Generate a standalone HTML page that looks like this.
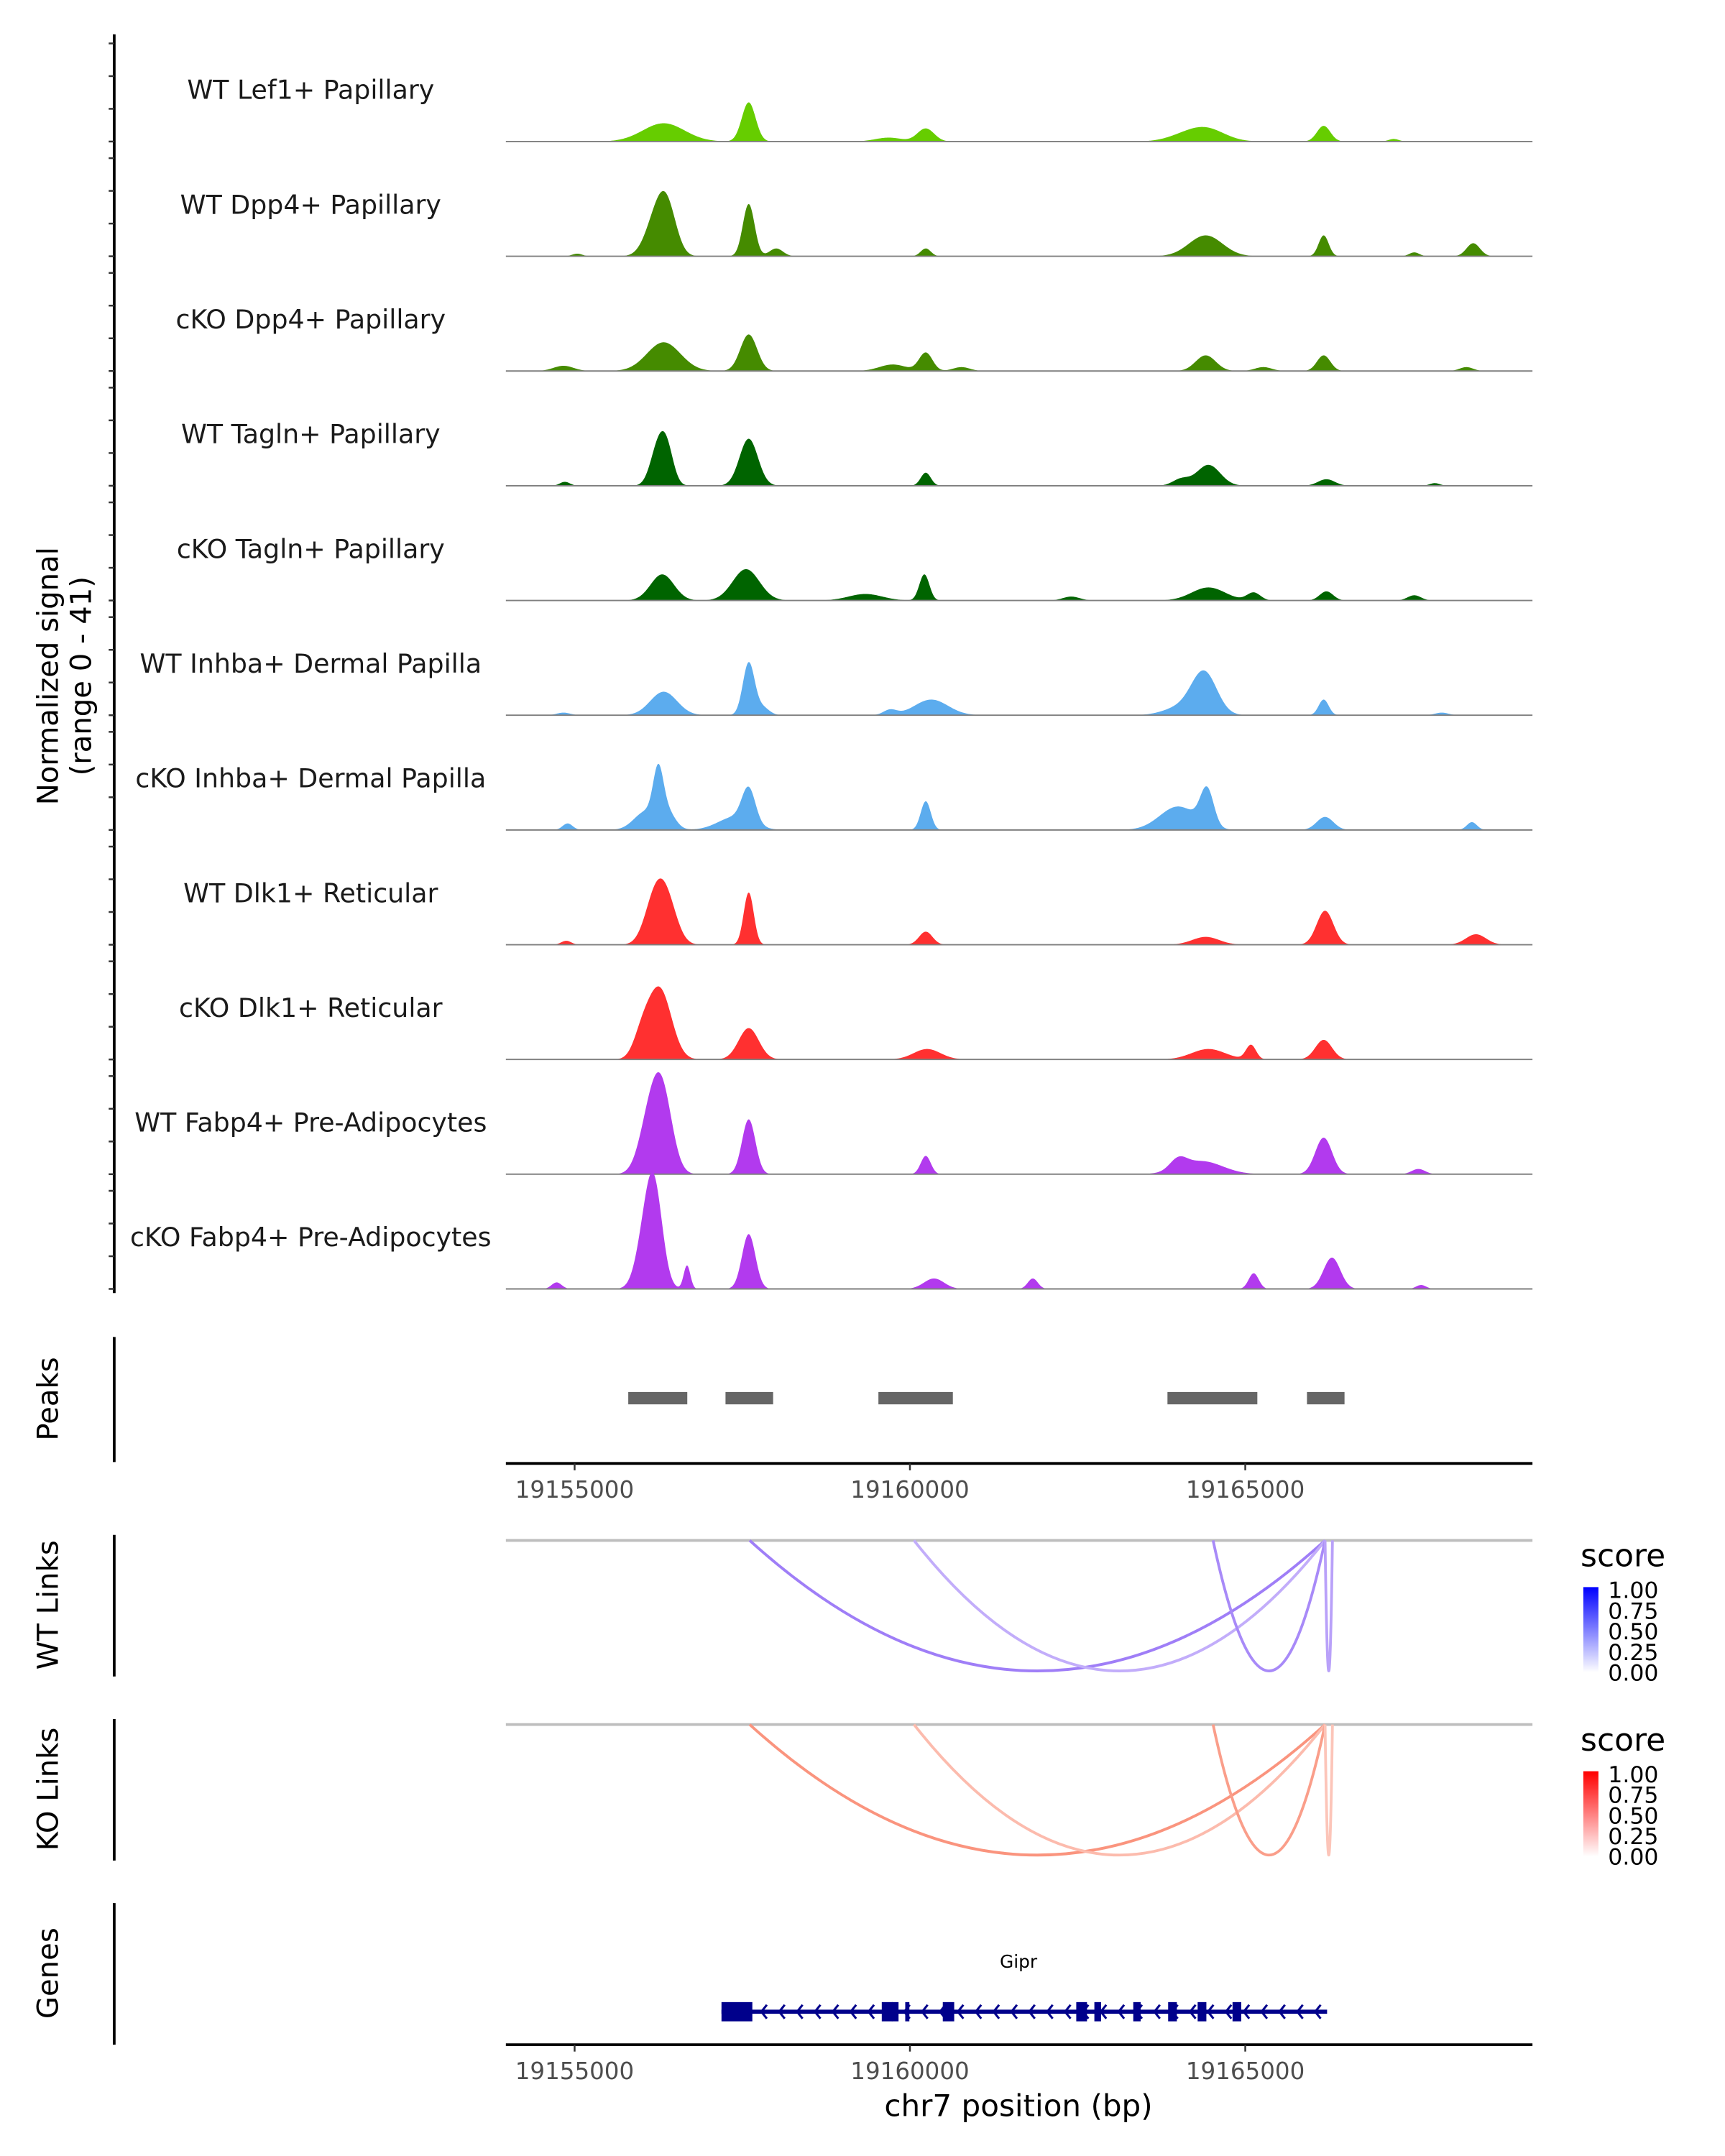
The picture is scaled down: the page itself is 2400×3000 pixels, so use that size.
<!DOCTYPE html>
<html><head><meta charset="utf-8"><title>Coverage plot chr7</title>
<style>html,body{margin:0;padding:0;background:#fff;}svg{display:block;font-family:"DejaVu Sans","Liberation Sans",sans-serif;}</style>
</head><body>
<svg id="fig" width="2400" height="3000" viewBox="0 0 1255 1569" xmlns="http://www.w3.org/2000/svg">
<defs>
<linearGradient id="gBlue" x1="0" y1="1" x2="0" y2="0"><stop offset="0" stop-color="#ffffff"/><stop offset="1" stop-color="#0000ff"/></linearGradient>
<linearGradient id="gRed" x1="0" y1="1" x2="0" y2="0"><stop offset="0" stop-color="#ffffff"/><stop offset="1" stop-color="#ff0000"/></linearGradient>
</defs>
<g id="tracks"></g>
<g id="left">
<text transform="translate(42,492) rotate(-90)" text-anchor="middle" font-size="21" fill="#000">Normalized signal</text>
<text transform="translate(66,492) rotate(-90)" text-anchor="middle" font-size="21" fill="#000">(range 0 - 41)</text>
</g>
<g id="peaks">
<line x1="83" y1="973" x2="83" y2="1064" stroke="#000" stroke-width="2"/>
<text transform="translate(42,1018) rotate(-90)" text-anchor="middle" font-size="21">Peaks</text>
</g>
<g id="links">
<line x1="83" y1="1117" x2="83" y2="1220" stroke="#000" stroke-width="2"/>
<text transform="translate(42,1168) rotate(-90)" text-anchor="middle" font-size="21">WT Links</text>
<line x1="83" y1="1251" x2="83" y2="1354" stroke="#000" stroke-width="2"/>
<text transform="translate(42,1302) rotate(-90)" text-anchor="middle" font-size="21">KO Links</text>
<line x1="368" y1="1121" x2="1115" y2="1121" stroke="#bebebe" stroke-width="2"/>
<line x1="368" y1="1255" x2="1115" y2="1255" stroke="#bebebe" stroke-width="2"/>
<g>
<text x="1150" y="1140" font-size="23">score</text>
<rect x="1152" y="1155" width="11" height="62" fill="url(#gBlue)"/>
<text x="1170" y="1163" font-size="16.5">1.00</text><text x="1170" y="1178" font-size="16.5">0.75</text><text x="1170" y="1193" font-size="16.5">0.50</text><text x="1170" y="1208" font-size="16.5">0.25</text><text x="1170" y="1223" font-size="16.5">0.00</text>
</g>
<g>
<text x="1150" y="1274" font-size="23">score</text>
<rect x="1152" y="1289" width="11" height="62" fill="url(#gRed)"/>
<text x="1170" y="1297" font-size="16.5">1.00</text><text x="1170" y="1312" font-size="16.5">0.75</text><text x="1170" y="1327" font-size="16.5">0.50</text><text x="1170" y="1342" font-size="16.5">0.25</text><text x="1170" y="1357" font-size="16.5">0.00</text>
</g>
</g>
<g id="genes">
<line x1="83" y1="1385" x2="83" y2="1488" stroke="#000" stroke-width="2"/>
<text transform="translate(42,1436) rotate(-90)" text-anchor="middle" font-size="21">Genes</text>
<text x="741" y="1432" text-anchor="middle" font-size="13">Gipr</text>
</g>
<g id="axes">
<text x="741" y="1540" text-anchor="middle" font-size="22">chr7 position (bp)</text>
</g>
</svg>
<script>
const NS='http://www.w3.org/2000/svg';
// ---- data ----
const trackNames=["WT Lef1+ Papillary","WT Dpp4+ Papillary","cKO Dpp4+ Papillary","WT Tagln+ Papillary","cKO Tagln+ Papillary","WT Inhba+ Dermal Papilla","cKO Inhba+ Dermal Papilla","WT Dlk1+ Reticular","cKO Dlk1+ Reticular","WT Fabp4+ Pre-Adipocytes","cKO Fabp4+ Pre-Adipocytes"];
const trackColors=["#66cd00","#458b00","#458b00","#006400","#006400","#5cacee","#5cacee","#ff3030","#ff3030","#b23aee","#b23aee"];
// peaks per track: [position bp, height (signal units), sigma bp]
const peaksLef1WT=[[19156328,7,250],[19157596,15,82],[19159683,1.5,160],[19160236,5,100],[19164410,5,220],[19164041,1.5,200],[19166169,6,80],[19167213,1,60]];
const peaksDpp4WT=[[19156226,15,130],[19156390,14,110],[19157596,20,70],[19158006,3,80],[19160236,3,60],[19164410,8,200],[19166169,8,60],[19168399,5,80],[19155039,1,60],[19167520,1.5,60]];
const peaksDpp4KO=[[19156328,11,200],[19157596,14,100],[19154834,2,120],[19160236,7,80],[19159745,2.5,160],[19164410,6,120],[19166169,6,80],[19168297,1.5,80],[19160768,1.5,100],[19165269,1.5,100]];
const peaksTaglnWT=[[19156240,14,90],[19156380,12,80],[19157596,18,110],[19160236,5,60],[19164451,8,140],[19164041,2.5,100],[19166210,2.5,100],[19154855,1.5,60],[19167826,1,60]];
const peaksTaglnKO=[[19156307,10,140],[19157556,12,160],[19160215,10,60],[19159336,2.5,200],[19164451,5,200],[19165126,3,80],[19166210,3.5,80],[19162405,1.5,100],[19167520,2,80]];
const peaksInhbaWT=[[19156328,9,160],[19157596,20,70],[19157801,3,80],[19160318,6,200],[19159704,2,80],[19164389,16,150],[19164041,3,200],[19166169,6,60],[19154834,1,80],[19167929,1,80]];
const peaksInhbaKO=[[19156246,17,60],[19156062,7,140],[19156369,7,100],[19157596,13,80],[19157392,5,200],[19160236,11,60],[19164000,9,220],[19164430,14,80],[19166190,5,100],[19168379,3,60],[19154896,2.5,60]];
const peaksDlk1WT=[[19156190,16,120],[19156380,15,120],[19157596,20,60],[19160236,5,80],[19166190,13,100],[19164410,3,160],[19168440,4,120],[19154875,1.5,60]];
const peaksDlk1KO=[[19156267,27,140],[19156001,8,100],[19157596,12,120],[19160256,4,160],[19164451,4,200],[19165085,5.5,60],[19166169,7.5,100]];
const peaksFabp4WT=[[19156103,18,120],[19156307,30,120],[19157596,21,80],[19160236,7,60],[19166169,14,100],[19164348,5,250],[19164000,4,100],[19167581,2,80]];
const peaksFabp4KO=[[19156185,38,100],[19156021,14,100],[19156676,9,40],[19157596,21,80],[19160359,4,120],[19161832,4,60],[19165126,6,60],[19166292,12,100],[19154732,2.5,60],[19167622,1.5,60]];
const allPeaks=[peaksLef1WT,peaksDpp4WT,peaksDpp4KO,peaksTaglnWT,peaksTaglnKO,peaksInhbaWT,peaksInhbaKO,peaksDlk1WT,peaksDlk1KO,peaksFabp4WT,peaksFabp4KO];
const peakStarts=[19155800,19157250,19159530,19163840,19165920];
const peakEnds=[19156680,19157960,19160640,19165180,19166480];
const linkStarts=[19157610,19160060,19164520,19166190];
const linkEnds=[19166190,19166190,19166190,19166300];
const wtScores=[0.55,0.35,0.5,0.4];
const koScores=[0.55,0.35,0.5,0.3];
const exonStarts=[19157190,19159580,19159730,19159930,19160490,19162480,19162750,19163330,19163850,19164290,19164810];
const exonEnds=[19157650,19159740,19159830,19159990,19160660,19162640,19162850,19163440,19163980,19164420,19164940];
const geneStart=19157190, geneEnd=19166220;
const xTicks=[19155000,19160000,19165000];
// ---- scales ----
const X0=368,X1=1115,BP0=19153975,PXPERBP=0.0488;
function xs(bp){return X0+(bp-BP0)*PXPERBP;}
const baseTop=103,trackStep=83.5,unitPx=1.9,widthScale=1.25;
function mk(tag,attrs,parent){const e=document.createElementNS(NS,tag);for(const k in attrs)e.setAttribute(k,attrs[k]);parent.appendChild(e);return e;}
const svg=document.getElementById('fig');
const tracks=document.getElementById('tracks');
const left=document.getElementById('left');
mk('line',{x1:83,y1:25,x2:83,y2:941,stroke:'#000','stroke-width':2},left);
trackNames.forEach((name,i)=>{
  const base=baseTop+i*trackStep;
  for(let k=0;k<4;k++){
    const t=mk('line',{x1:79,x2:83,y1:base-k*23.8,y2:base-k*23.8,stroke:'#333','stroke-width':1.3},left);
    
    
  }
  const g=mk('g',{},tracks);
  
  
  const lbl=mk('text',{x:226,y:base-31,'text-anchor':'middle','font-size':19,fill:'#1a1a1a'},g);
  lbl.textContent=name;
  
  
  const pk=allPeaks[i];
  let d='M'+X0+','+base;
  for(let x=X0;x<=X1;x+=0.5){
    const bp=BP0+(x-X0)/PXPERBP;
    let v=0;
    for(const p of pk){const z=(bp-p[0])/(p[2]*widthScale);v+=p[1]*Math.exp(-0.5*z*z);}
    let h=v*unitPx; if(h<0.3)h=0;
    d+=' L'+x.toFixed(1)+','+(base-h).toFixed(2);
  }
  d+=' L'+X1+','+base+' Z';
  const area=mk('path',{d:d,fill:trackColors[i]},g);
  
  
  const bl=mk('line',{x1:X0,x2:X1,y1:base,y2:base,stroke:'#7f7f7f','stroke-width':1},g);
  
  
});
const peaksG=document.getElementById('peaks');
peakStarts.forEach((s,i)=>{
  const r=mk('rect',{x:xs(s),y:1013,width:xs(peakEnds[i])-xs(s),height:9,fill:'#666666'},peaksG);
  
  
});
const axes=document.getElementById('axes');
[1065,1488].forEach(y=>{
  mk('line',{x1:X0,x2:X1,y1:y,y2:y,stroke:'#000','stroke-width':2},axes);
  xTicks.forEach(t=>{
    mk('line',{x1:xs(t),x2:xs(t),y1:y,y2:y+5,stroke:'#333','stroke-width':1.3},axes);
    const tl=mk('text',{x:xs(t),y:y+25,'text-anchor':'middle','font-size':17,fill:'#4d4d4d'},axes);
    tl.textContent=t;
    
    
  });
});
const linksG=document.getElementById('links');
function mix(c,s){return 'rgb('+[0,1,2].map(j=>Math.round(255+(c[j]-255)*s)).join(',')+')';}
function drawLinks(scores,top,col,nm){
  linkStarts.forEach((s,i)=>{
    const a=xs(s),b=xs(linkEnds[i]),depth=95;
    const p=mk('path',{d:'M'+a+','+top+' Q'+((a+b)/2)+','+(top+2*depth)+' '+b+','+top,fill:'none',stroke:mix(col,scores[i]),'stroke-width':2},linksG);
    
    
  });
}
drawLinks(wtScores,1121,[80,20,240],'wt-link-arc');
drawLinks(koScores,1255,[245,60,20],'ko-link-arc');
const genesG=document.getElementById('genes');
const gy=1464;
mk('line',{x1:xs(geneStart),x2:xs(geneEnd),y1:gy,y2:gy,stroke:'#00008b','stroke-width':3},genesG);
for(let x=xs(geneStart)+30;x<xs(geneEnd);x+=13){
  const c=mk('path',{d:'M'+(x+3)+','+(gy-5)+' L'+(x-1)+','+gy+' L'+(x+3)+','+(gy+5),fill:'none',stroke:'#00008b','stroke-width':1.6},genesG);
  
  
}
exonStarts.forEach((s,i)=>{
  const r=mk('rect',{x:xs(s),y:gy-7,width:Math.max(3,xs(exonEnds[i])-xs(s)),height:14,fill:'#00008b'},genesG);
  
  
});
</script>
</body></html>
